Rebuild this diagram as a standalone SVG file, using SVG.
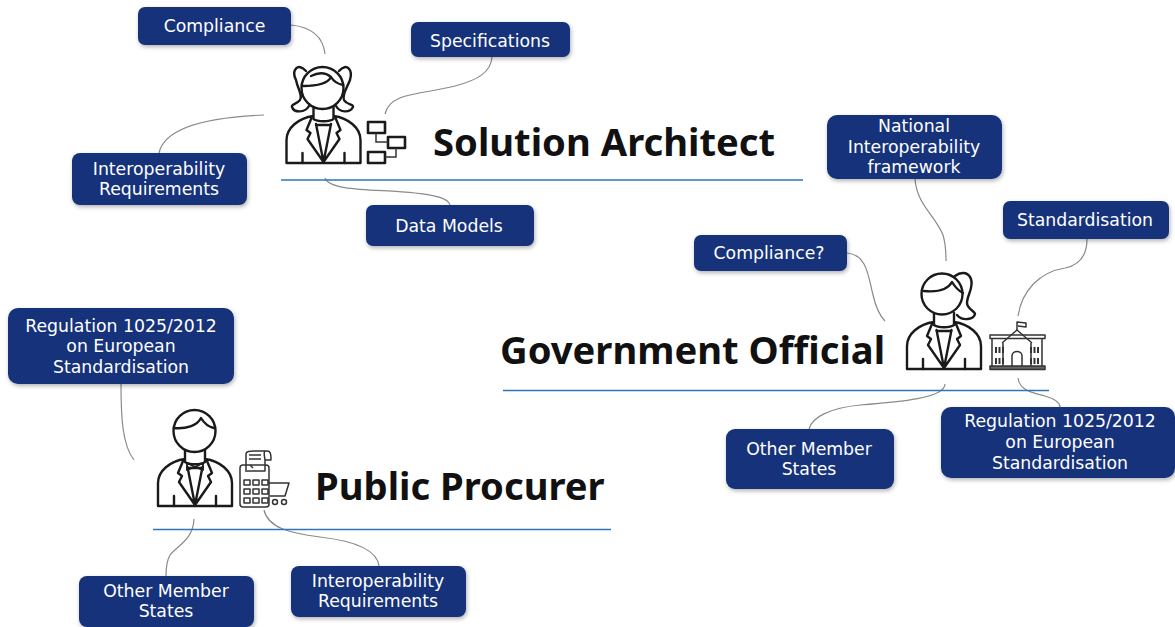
<svg xmlns="http://www.w3.org/2000/svg" width="1175" height="627" viewBox="0 0 1175 627">
<defs>
<filter id="sh" x="-10%" y="-15%" width="120%" height="140%"><feDropShadow dx="1" dy="2" stdDeviation="2" flood-color="#000" flood-opacity="0.3"/></filter>
<g id="torso">
<path d="M-37 0H37V-23C37 -35 25 -45 10 -47M-37 0V-23C-37 -35 -25 -45 -10 -47M-10 -56V-44C-6 -41 6 -41 10 -44V-56"/>
<path d="M-12 -45L-17 -33L-13 -30L-16 -24L0 -1L16 -24L13 -30L17 -33L12 -45M-7.500 -39L0 -1L7.500 -39M-7.500 -38H7.500M-21 0V-10M21 0V-10"/>
</g>
</defs>
<style>
.n rect{fill:#14317a;filter:url(#sh)}
.n text{fill:#fff;font:17.300px "DejaVu Sans",Tahoma,sans-serif;text-anchor:middle}
.c path{fill:none;stroke:#8a8a8a;stroke-width:1.2}
.u{stroke:#2e75b6;stroke-width:1.3}
.t{font:bold 38.200px "Noto Sans","DejaVu Sans",sans-serif;fill:#111}
.i{fill:none;stroke:#1a1a1a;stroke-width:2.400;stroke-linejoin:round;stroke-linecap:round}
.s{fill:none;stroke:#333;stroke-width:1.500}
.b{fill:none;stroke:#333;stroke-width:1.500;stroke-linejoin:round}
</style>
<g id="connectors" class="c">
<path d="M325 54C323 36 311 27 291 25"/>
<path d="M385 114C390 92 420 95 455 86C478 80 491 72 492 57"/>
<path d="M264 115C215 117 165 125 159 153"/>
<path d="M325 178C330 192 380 189 415 193C435 195 448 198 450 205"/>
<path d="M915 179C917 205 935 215 943 235C946 245 946 253 946 261"/>
<path d="M847 253C867 255 868 275 873 295C876 308 880 316 885 321"/>
<path d="M1018 316C1022 290 1040 272 1065 268C1080 265 1087 255 1087 239"/>
<path d="M945 384C945 398 900 402 860 405C830 408 812 417 809 429"/>
<path d="M1018 378C1020 392 1035 393 1045 396C1055 399 1060 403 1060 407"/>
<path d="M121 384C121 415 122 445 134 460"/>
<path d="M194 519C193 540 178 545 170 555C166 562 166 570 166 576"/>
<path d="M264 510C268 528 290 533 320 537C355 541 377 550 379 566"/>
<line class="u" x1="281" y1="180" x2="803" y2="180"/>
<line class="u" x1="503" y1="390.500" x2="1049" y2="390.500"/>
<line class="u" x1="153" y1="529.500" x2="611" y2="529.500"/>
</g>

<g id="solution-architect">
<g class="i">
<use href="#torso" x="323.500" y="163"/>
<circle cx="322.500" cy="88" r="21"/>
<path d="M303 86C318 86 328 83 331 77C334 82 338 84 343 85M331 77C325 72 317 73 311 76"/>
<path d="M306 71C298 62 291 70 296 80C298 90 303 95 300 100C296 105 291 104 292 107C294 113 305 113 309 106"/>
<path d="M339 71C347 62 353 70 350 80C346 90 342 95 344 100C347 105 354 104 353 107C350 113 340 113 336 106"/>
</g>
<g class="i" style="stroke-width:2.600;stroke-linecap:butt"><rect x="368" y="122" width="17" height="11"/><rect x="388" y="137" width="17" height="11"/><rect x="368" y="152" width="17" height="11"/></g>
<path class="s" d="M376 133V142H388M385 157H396V148"/>
<text class="t" x="433" y="156">Solution Architect</text>
</g>

<g id="government-official">
<g class="i">
<use href="#torso" x="944" y="369"/>
<circle cx="942" cy="294" r="20.500"/>
<path d="M924 291C934 292 947 291 952 282C955 287 959 291 963 293"/>
<path d="M955 276C960 272 968 271 971 279C974 288 967 295 967 303C967 309 975 311 975 314C974 319 963 322 957 315"/>
</g>
<g class="b">
<rect x="990" y="335" width="55" height="3.500"/>
<path d="M992 338.500V366M1042 338.500V366M1002 343L1017 330L1032 343M1003 343V366M1031 343V366"/>
<path d="M1017 330V322L1026 323V327L1018 326"/>
<path d="M1012 366V356C1012 350 1022 350 1022 356V366"/>
<rect x="990" y="366" width="55" height="3.500" style="fill:#666"/>
<path d="M996 347v6M999.500 347v6M1003 347v6M996 358v6M999.500 358v6M1003 358v6M1031 347v6M1034.500 347v6M1038 347v6M1031 358v6M1034.500 358v6M1038 358v6" style="stroke-width:2"/>
</g>
<text class="t" x="500" y="364">Government Official</text>
</g>

<g id="public-procurer">
<g class="i">
<use href="#torso" x="195" y="506"/>
<circle cx="194.500" cy="431" r="21"/>
<path d="M174 428C186 429 197 426 201 418C204 423 209 427 214 428"/>
<path d="M187 463L195 467L203 463V470L195 467L187 470Z" style="stroke-width:1.800"/>
</g>
<g class="b">
<rect x="240" y="465" width="29" height="42" rx="3"/>
<path d="M246 472V454C246 451 250 451 254 451H267C271 451 271 455 271 460H265V471H247"/>
<path d="M249 455h12M249 459h12M250 465l3 3M265 451C263 453 265 457 265 460"/>
<path d="M244 480h6v5h-6zM253 480h6v5h-6zM262 480h6v5h-6zM244 489h6v5h-6zM253 489h6v5h-6zM262 489h6v5h-6zM244 498h6v5h-6zM253 498h6v5h-6zM262 498h6v5h-6z"/>
<path d="M269 483H289L285 496H270"/>
<circle cx="275" cy="502" r="2.500"/><circle cx="284" cy="502" r="2.500"/>
</g>
<text class="t" x="315" y="500">Public Procurer</text>
</g>

<g id="node-compliance" class="n"><rect x="138" y="7" width="153" height="38" rx="7"/><text x="214.500" y="32">Compliance</text></g>
<g id="node-specifications" class="n"><rect x="411" y="22" width="159" height="35" rx="7"/><text x="490" y="47">Specifications</text></g>
<g id="node-interop-1" class="n"><rect x="72" y="153" width="175" height="52" rx="8"/><text x="159" y="175">Interoperability</text><text x="159" y="195">Requirements</text></g>
<g id="node-data-models" class="n"><rect x="366" y="205" width="168" height="41" rx="7"/><text x="449" y="232">Data Models</text></g>
<g id="node-nif" class="n"><rect x="827" y="115" width="175" height="64" rx="10"/><text x="914" y="132">National</text><text x="914" y="153">Interoperability</text><text x="914" y="173">framework</text></g>
<g id="node-standardisation" class="n"><rect x="1003" y="201" width="166" height="38" rx="7"/><text x="1085" y="226">Standardisation</text></g>
<g id="node-compliance-q" class="n"><rect x="694" y="235" width="153" height="36" rx="7"/><text x="769" y="259">Compliance?</text></g>
<g id="node-other-1" class="n"><rect x="726" y="429" width="168" height="60" rx="9"/><text x="809" y="455">Other Member</text><text x="809" y="475">States</text></g>
<g id="node-reg-1" class="n"><rect x="941" y="407" width="234" height="71" rx="10"/><text x="1060" y="427">Regulation 1025/2012</text><text x="1060" y="448">on European</text><text x="1060" y="469">Standardisation</text></g>
<g id="node-reg-2" class="n"><rect x="8" y="308" width="226" height="76" rx="10"/><text x="121" y="332">Regulation 1025/2012</text><text x="121" y="352">on European</text><text x="121" y="373">Standardisation</text></g>
<g id="node-other-2" class="n"><rect x="79" y="576" width="175" height="51" rx="8"/><text x="166" y="597">Other Member</text><text x="166" y="617">States</text></g>
<g id="node-interop-2" class="n"><rect x="291" y="566" width="175" height="51" rx="8"/><text x="378" y="587">Interoperability</text><text x="378" y="607">Requirements</text></g>
</svg>
